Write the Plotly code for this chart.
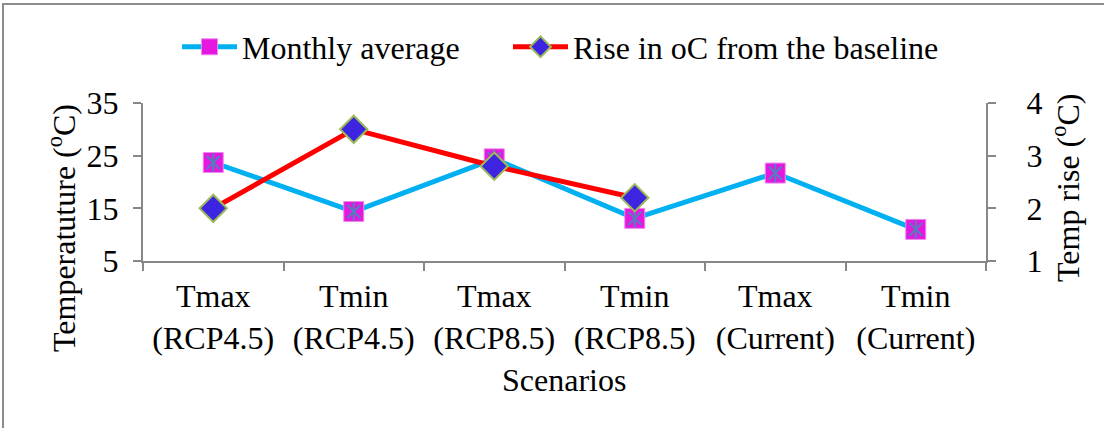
import plotly.graph_objects as go

# Scenario categories (two-line tick labels)
scenarios = [
    "Tmax<br>(RCP4.5)", "Tmin<br>(RCP4.5)", "Tmax<br>(RCP8.5)",
    "Tmin<br>(RCP8.5)", "Tmax<br>(Current)", "Tmin<br>(Current)",
]
# Monthly average temperature (°C), left axis
monthly_average = [23.7, 14.4, 24.4, 13.1, 21.7, 11.0]
# Rise in °C from the baseline, right axis (future scenarios only)
rise_scenarios = scenarios[:4]
rise_from_baseline = [2.0, 3.5, 2.8, 2.2]

FONT = "Times New Roman, Liberation Serif, DejaVu Serif, serif"
FS = 32
AXIS_GREY = "#878787"

W, H = 1104, 428
ML, MR, MT, MB = 143, 118, 103, 167
pw = W - ML - MR
ph = H - MT - MB


def px_to_paper_x(px):
    return (px - ML) / pw


def px_to_paper_y(py):
    return (H - MB - py) / ph


fig = go.Figure()

fig.add_trace(go.Scatter(
    x=scenarios, y=monthly_average, name="Monthly average",
    mode="lines+markers", legend="legend",
    line=dict(color="#00B0F0", width=5),
    marker=dict(symbol="square", size=20, color="#E617E0",
                line=dict(color="#EE88EE", width=1)),
))
# inner star pattern on the square markers
fig.add_trace(go.Scatter(
    x=scenarios, y=monthly_average, mode="markers", showlegend=False,
    hoverinfo="skip",
    marker=dict(symbol="x-thin-open", size=13, color="#4F81BD",
                line=dict(color="#4F81BD", width=2)),
))
fig.add_trace(go.Scatter(
    x=scenarios, y=monthly_average, mode="markers", showlegend=False,
    hoverinfo="skip",
    marker=dict(symbol="line-ns-open", size=13, color="#4F81BD",
                line=dict(color="#4F81BD", width=2)),
))

fig.add_trace(go.Scatter(
    x=rise_scenarios, y=rise_from_baseline, name="Rise in oC from the baseline",
    mode="lines+markers", yaxis="y2", legend="legend2",
    line=dict(color="#FF0000", width=5),
    marker=dict(symbol="diamond", size=21, color="#3D24E0",
                line=dict(color="#9BBB59", width=2)),
))

legend_style = dict(orientation="h", xanchor="left",
                    y=px_to_paper_y(47), yanchor="middle",
                    font=dict(family=FONT, size=FS), itemwidth=55,
                    bgcolor="rgba(0,0,0,0)", borderwidth=0)

fig.update_layout(
    width=W, height=H,
    margin=dict(l=ML, r=MR, t=MT, b=MB),
    paper_bgcolor="white", plot_bgcolor="white",
    font=dict(family=FONT, size=FS, color="black"),
    showlegend=True,
    legend=dict(x=px_to_paper_x(177), **legend_style),
    legend2=dict(x=px_to_paper_x(508), **legend_style),
    xaxis=dict(
        categoryorder="array", categoryarray=scenarios,
        range=[-0.5, 5.5], showgrid=False, zeroline=False,
        showline=True, linecolor=AXIS_GREY, linewidth=2,
        ticks="outside", tickson="boundaries", ticklen=8,
        tickwidth=2, tickcolor=AXIS_GREY,
        tickfont=dict(family=FONT, size=FS),
        ticklabelstandoff=6,
    ),
    yaxis=dict(
        range=[5, 35], tickvals=[5, 15, 25, 35], showgrid=False,
        zeroline=False, showline=True, linecolor=AXIS_GREY, linewidth=2,
        ticks="outside", ticklen=8, tickwidth=2, tickcolor=AXIS_GREY,
        tickfont=dict(family=FONT, size=FS), ticklabelstandoff=8,
    ),
    yaxis2=dict(
        range=[1, 4], tickvals=[1, 2, 3, 4], overlaying="y", side="right",
        showgrid=False, zeroline=False, showline=True,
        linecolor=AXIS_GREY, linewidth=2,
        ticks="outside", ticklen=8, tickwidth=2, tickcolor=AXIS_GREY,
        tickfont=dict(family=FONT, size=FS), ticklabelstandoff=24,
    ),
    annotations=[
        dict(text="Scenarios", xref="paper", yref="paper",
             x=px_to_paper_x(564), y=px_to_paper_y(380),
             xanchor="center", yanchor="middle", showarrow=False,
             font=dict(family=FONT, size=FS)),
        dict(text="Temperatuture (<sup>o</sup>C)", xref="paper", yref="paper",
             x=px_to_paper_x(62), y=px_to_paper_y(228), textangle=-90,
             xanchor="center", yanchor="middle", showarrow=False,
             font=dict(family=FONT, size=FS)),
        dict(text="Temp rise (<sup>o</sup>C)", xref="paper", yref="paper",
             x=px_to_paper_x(1066), y=px_to_paper_y(188), textangle=-90,
             xanchor="center", yanchor="middle", showarrow=False,
             font=dict(family=FONT, size=FS)),
    ],
    shapes=[dict(
        type="rect", xref="paper", yref="paper",
        x0=px_to_paper_x(3), x1=px_to_paper_x(1120),
        y0=px_to_paper_y(450), y1=px_to_paper_y(4),
        line=dict(color="#8C8C8C", width=2), fillcolor="rgba(0,0,0,0)",
        layer="below",
    )],
)

fig.write_html("out.html")
